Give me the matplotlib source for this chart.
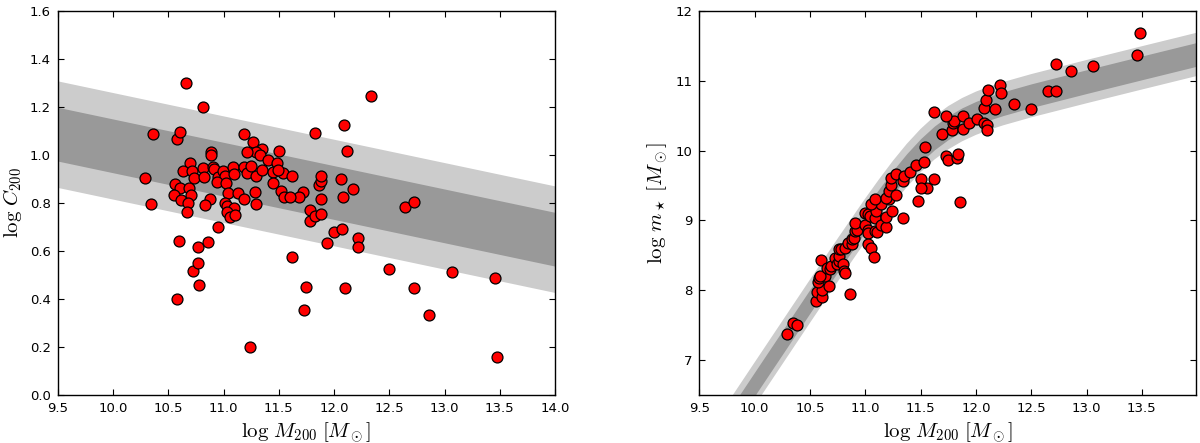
import numpy as np
import matplotlib
matplotlib.use("Agg")
import matplotlib.pyplot as plt

plt.rcParams['mathtext.fontset'] = 'cm'
plt.rcParams['font.family'] = ['DejaVu Sans']

# ---------------- Left panel data: log M200 vs log C200 ----------------
logM_left = [10.29, 10.34, 10.36, 10.575, 10.605, 10.66, 10.81, 10.58, 10.60, 10.72,
             10.78, 10.77, 10.77, 10.86, 10.946, 11.24, 10.56, 10.605, 10.69, 10.55,
             10.614, 10.705, 10.675, 10.665, 10.877, 10.83, 10.696, 10.63, 10.71, 10.81,
             10.73, 10.82, 10.886, 10.89, 10.907, 10.91, 10.95, 10.997, 11.01, 11.088,
             11.097, 10.94, 11.02, 11.04, 11.01, 11.03, 11.09, 11.03, 11.06, 11.10,
             11.13, 11.18, 11.18, 11.215, 11.25, 11.29, 11.345, 11.18, 11.27, 11.345,
             11.29, 11.21, 11.33, 11.50, 11.40, 11.48, 11.45, 11.54, 11.617, 11.495,
             11.28, 11.29, 11.45, 11.52, 11.547, 11.72, 11.686, 11.60, 11.78, 11.78,
             11.83, 11.88, 11.86, 11.88, 11.88, 11.88, 12.06, 12.08, 12.17, 11.83,
             12.09, 12.115, 12.335, 11.617, 11.73, 11.75, 11.94, 12.00, 12.075, 12.10,
             12.22, 12.22, 12.50, 12.645, 12.72, 12.72, 12.86, 13.066, 13.46, 13.476]
logC200 = [0.905, 0.795, 1.086, 1.065, 1.097, 1.30, 1.20, 0.40, 0.643, 0.515,
           0.46, 0.55, 0.615, 0.637, 0.70, 0.20, 0.878, 0.861, 0.864, 0.833,
           0.8125, 0.833, 0.799, 0.764, 0.817, 0.792, 0.968, 0.933, 0.935, 0.944,
           0.903, 0.91, 1.011, 1.0, 0.951, 0.94, 0.91, 0.935, 0.914, 0.948,
           0.921, 0.886, 0.882, 0.843, 0.798, 0.7875, 0.778, 0.764, 0.743, 0.75,
           0.84, 0.815, 0.951, 0.924, 0.955, 0.914, 0.9375, 1.0875, 1.053, 1.025,
           1.011, 1.011, 1.0, 1.017, 0.979, 0.965, 0.928, 0.924, 0.9125, 0.9375,
           0.847, 0.796, 0.882, 0.851, 0.826, 0.847, 0.826, 0.823, 0.771, 0.726,
           0.747, 0.753, 0.875, 0.892, 0.9125, 0.817, 0.90, 0.823, 0.857, 1.093,
           1.124, 1.015, 1.246, 0.575, 0.353, 0.449, 0.632, 0.679, 0.693, 0.447,
           0.655, 0.616, 0.526, 0.782, 0.804, 0.444, 0.332, 0.513, 0.487, 0.157]

# concentration-mass relation band: centre at the x limits
band_left_x = [9.5, 14.0]
band_left_centre = [1.0865, 0.649]
band_left_inner = 0.112
band_left_outer = 0.222

# ---------------- Right panel data: log M200 vs log m_star ----------------
logM_right = [10.29, 10.35, 10.38, 10.55, 10.56, 10.61, 10.61, 10.57, 10.58, 10.64,
              10.59, 10.60, 10.67, 10.65, 10.685, 10.69, 10.73, 10.745, 10.76, 10.76,
              10.76, 10.78, 10.82, 10.80, 10.81, 10.82, 10.86, 10.84, 10.88, 10.88,
              10.895, 10.91, 10.925, 10.91, 11.00, 11.02, 11.02, 11.09, 11.11, 11.02,
              11.055, 11.08, 11.00, 11.02, 11.04, 11.09, 11.10, 11.14, 11.05, 11.09,
              11.14, 11.19, 11.185, 11.21, 11.19, 11.245, 11.34, 11.21, 11.23, 11.28,
              11.23, 11.28, 11.34, 11.35, 11.40, 11.50, 11.56, 11.50, 11.62, 11.48,
              11.86, 11.46, 11.53, 11.54, 11.73, 11.75, 11.83, 11.84, 11.69, 11.78,
              11.79, 11.88, 11.80, 11.73, 11.62, 11.88, 11.94, 12.01, 12.07, 12.10,
              12.10, 12.07, 12.09, 12.17, 12.11, 12.22, 12.23, 12.34, 12.50, 12.65,
              12.72, 12.72, 12.86, 13.06, 13.46, 13.48]
logMstar = [7.37, 7.53, 7.50, 7.85, 7.97, 7.91, 8.01, 8.12, 8.17, 8.20,
            8.20, 8.43, 8.06, 8.32, 8.30, 8.35, 8.46, 8.37, 8.42, 8.49,
            8.59, 8.59, 8.60, 8.37, 8.28, 8.25, 7.95, 8.68, 8.66, 8.74,
            8.75, 8.85, 8.86, 8.97, 8.94, 8.87, 8.82, 8.85, 8.83, 8.66,
            8.60, 8.47, 9.11, 9.09, 9.06, 9.04, 9.14, 9.23, 9.23, 9.31,
            8.94, 8.90, 9.05, 9.30, 9.32, 9.13, 9.04, 9.42, 9.51, 9.37,
            9.61, 9.67, 9.56, 9.63, 9.69, 9.60, 9.47, 9.47, 9.60, 9.28,
            9.27, 9.80, 9.83, 10.05, 9.93, 9.87, 9.90, 9.95, 10.24, 10.29,
            10.39, 10.31, 10.43, 10.49, 10.55, 10.50, 10.40, 10.46, 10.39, 10.36,
            10.30, 10.61, 10.73, 10.60, 10.87, 10.94, 10.82, 10.67, 10.60, 10.85,
            10.86, 11.24, 11.14, 11.21, 11.37, 11.68]

# stellar-to-halo mass relation band (centre)
band_right_x = [9.5, 9.75, 10.0, 10.5, 10.75, 11.0, 11.125, 11.25, 11.375, 11.5,
                11.625, 11.75, 11.875, 12.0, 12.125, 12.25, 12.5, 13.0, 13.5, 14.0]
band_right_centre = [5.47, 6.064, 6.658, 7.843, 8.431, 9.006, 9.282, 9.545, 9.787, 10.001,
                     10.182, 10.328, 10.443, 10.535, 10.610, 10.674, 10.786, 10.988, 11.185, 11.38]
band_right_inner = 0.17
band_right_outer = 0.31

LIGHT = '#cccccc'
DARK = '#999999'

fig = plt.figure(figsize=(12, 4.43), dpi=100)
fig.patch.set_facecolor('white')
ax1 = fig.add_axes([0.0483, 0.1084, 0.4142, 0.8668])
ax2 = fig.add_axes([0.5828, 0.1084, 0.4139, 0.8668])


def style(ax):
    ax.tick_params(direction='in', top=True, right=True, length=4, width=0.8,
                   labelsize=9.5, pad=5)
    for s in ax.spines.values():
        s.set_linewidth(1.0)


# Left
bx = np.array(band_left_x)
bc = np.array(band_left_centre)
ax1.fill_between(bx, bc - band_left_outer, bc + band_left_outer, color=LIGHT, lw=0, zorder=1)
ax1.fill_between(bx, bc - band_left_inner, bc + band_left_inner, color=DARK, lw=0, zorder=2)
ax1.scatter(logM_left, logC200, s=62, c='red', edgecolors='black', linewidths=0.9, zorder=3)
ax1.set_xlim(9.5, 14.0)
ax1.set_ylim(0.0, 1.6)
ax1.set_xticks(np.arange(9.5, 14.01, 0.5))
ax1.set_yticks(np.arange(0.0, 1.61, 0.2))
ax1.set_xlabel(r'$\log\,M_{200}\;[M_\odot]$', fontsize=15, labelpad=4)
ax1.set_ylabel(r'$\log\,C_{200}$', fontsize=15)
style(ax1)

# Right
rx = np.array(band_right_x)
rc = np.array(band_right_centre)
ax2.fill_between(rx, rc - band_right_outer, rc + band_right_outer, color=LIGHT, lw=0, zorder=1)
ax2.fill_between(rx, rc - band_right_inner, rc + band_right_inner, color=DARK, lw=0, zorder=2)
ax2.scatter(logM_right, logMstar, s=62, c='red', edgecolors='black', linewidths=0.9, zorder=3)
ax2.set_xlim(9.5, 13.99)
ax2.set_ylim(6.5, 12.0)
ax2.set_xticks(np.arange(9.5, 13.51, 0.5))
ax2.set_yticks([7, 8, 9, 10, 11, 12])
ax2.set_xlabel(r'$\log\,M_{200}\;[M_\odot]$', fontsize=15, labelpad=4)
ax2.set_ylabel(r'$\log\,m_\star\;[M_\odot]$', fontsize=15)
style(ax2)

fig.savefig('out.png', dpi=100, facecolor='white')
